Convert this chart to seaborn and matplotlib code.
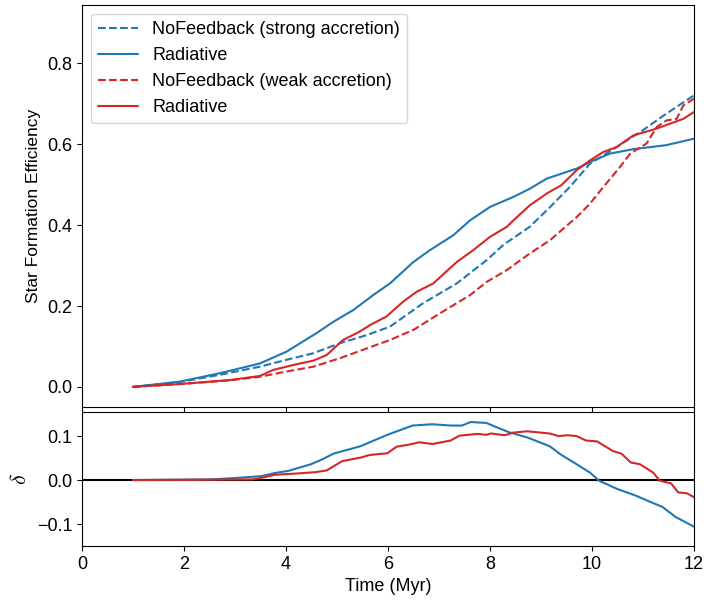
import numpy as np
import pandas as pd
import matplotlib
matplotlib.use("Agg")
import matplotlib.pyplot as plt
import seaborn as sns

# ---- data ----
t_bs = [1.0, 1.92, 2.71, 3.49, 4.01, 4.6, 4.93, 5.32, 5.71, 6.04, 6.5, 6.82, 7.28, 7.61, 8.0,
        8.46, 8.78, 9.11, 9.7, 10.03, 10.35, 10.81, 11.46, 12.0]
sfe_bs = [0.0, 0.013, 0.034, 0.058, 0.087, 0.133, 0.161, 0.19, 0.227, 0.256, 0.309, 0.338, 0.375,
          0.412, 0.445, 0.47, 0.49, 0.515, 0.54, 0.56, 0.577, 0.588, 0.598, 0.614]

t_bd = [1.0, 1.92, 2.71, 3.49, 4.01, 4.53, 5.06, 5.58, 6.04, 6.69, 7.35, 7.94, 8.26, 8.78, 9.18,
        9.57, 9.96, 10.48, 11.0, 11.46, 12.0]
sfe_bd = [0.0, 0.012, 0.03, 0.05, 0.067, 0.083, 0.108, 0.128, 0.149, 0.207, 0.256, 0.314, 0.351,
          0.396, 0.445, 0.495, 0.552, 0.593, 0.635, 0.676, 0.721]

t_rs = [1.0, 1.92, 2.9, 3.49, 3.75, 4.14, 4.54, 4.8, 5.12, 5.45, 5.65, 5.97, 6.3, 6.56, 6.89,
        7.35, 7.67, 8.0, 8.33, 8.46, 8.78, 9.11, 9.4, 9.7, 9.96, 10.22, 10.48, 10.81, 11.27,
        11.79, 12.0]
sfe_rs = [0.0, 0.007, 0.017, 0.027, 0.042, 0.054, 0.065, 0.079, 0.116, 0.137, 0.153, 0.174,
          0.211, 0.235, 0.256, 0.309, 0.338, 0.371, 0.396, 0.412, 0.449, 0.478, 0.499, 0.536,
          0.56, 0.581, 0.593, 0.622, 0.639, 0.663, 0.68]

t_rd = [1.0, 1.92, 2.9, 3.49, 4.01, 4.54, 5.06, 5.58, 6.04, 6.5, 7.02, 7.61, 7.94, 8.33, 8.78,
        9.18, 9.7, 9.96, 10.22, 10.55, 10.75, 11.07, 11.27, 11.46, 11.66, 11.79, 12.0]
sfe_rd = [0.0, 0.007, 0.016, 0.025, 0.038, 0.05, 0.071, 0.095, 0.116, 0.141, 0.182, 0.227, 0.26,
          0.289, 0.33, 0.363, 0.42, 0.453, 0.494, 0.544, 0.577, 0.602, 0.643, 0.659, 0.663,
          0.696, 0.713]

t_db = [1.0, 2.54, 2.99, 3.52, 3.78, 4.05, 4.49, 4.71, 4.93, 5.46, 5.99, 6.48, 6.87, 7.23, 7.45,
        7.62, 7.93, 8.11, 8.37, 8.73, 9.17, 9.39, 9.7, 9.96, 10.14, 10.49, 10.85, 11.11, 11.38,
        11.64, 12.0]
delta_b = [0.0, 0.0015, 0.0045, 0.009, 0.016, 0.021, 0.036, 0.047, 0.06, 0.077, 0.103, 0.124,
           0.127, 0.124, 0.124, 0.132, 0.130, 0.121, 0.109, 0.097, 0.077, 0.058, 0.036, 0.017,
           -0.0015, -0.02, -0.035, -0.048, -0.061, -0.084, -0.106]

t_dr = [1.0, 3.34, 3.56, 3.78, 4.22, 4.58, 4.8, 5.1, 5.46, 5.64, 5.99, 6.17, 6.43, 6.61, 6.87,
        7.23, 7.4, 7.76, 7.93, 8.02, 8.29, 8.46, 8.73, 9.17, 9.35, 9.52, 9.7, 9.88, 10.1, 10.41,
        10.58, 10.76, 10.94, 11.2, 11.33, 11.55, 11.69, 11.86, 12.0]
delta_r = [0.0, 0.0015, 0.006, 0.012, 0.015, 0.018, 0.022, 0.043, 0.051, 0.057, 0.061, 0.076,
           0.081, 0.086, 0.082, 0.09, 0.101, 0.105, 0.103, 0.106, 0.102, 0.108, 0.111, 0.106,
           0.1, 0.102, 0.1, 0.09, 0.088, 0.066, 0.06, 0.04, 0.036, 0.017, -0.0015, -0.0075,
           -0.028, -0.03, -0.039]

labels = ["NoFeedback (strong accretion)", "Radiative", "NoFeedback (weak accretion)", "Radiative"]
xticks = [0, 2, 4, 6, 8, 10, 12]

# ---- style ----
sns.set_style("ticks", {"axes.edgecolor": "black", "text.color": "black",
                        "axes.labelcolor": "black", "xtick.color": "black",
                        "ytick.color": "black"})
plt.rcParams["font.family"] = ["Liberation Sans", "DejaVu Sans"]
plt.rcParams["mathtext.fontset"] = "cm"

blue = "#1f77b4"
red = "#d62728"

fig = plt.figure(figsize=(7.06, 6.04), dpi=100)
ax1 = fig.add_axes([0.116, 0.326, 0.867, 0.666])
ax2 = fig.add_axes([0.116, 0.096, 0.867, 0.222], sharex=ax1)

sns.lineplot(x=t_bd, y=sfe_bd, ax=ax1, color=blue, linestyle="--", lw=1.5, label=labels[0])
sns.lineplot(x=t_bs, y=sfe_bs, ax=ax1, color=blue, lw=1.5, label=labels[1])
sns.lineplot(x=t_rd, y=sfe_rd, ax=ax1, color=red, linestyle="--", lw=1.5, label=labels[2])
sns.lineplot(x=t_rs, y=sfe_rs, ax=ax1, color=red, lw=1.5, label=labels[3])

ax1.set_xlim(0, 12)
ax1.set_ylim(-0.05, 0.945)
ax1.set_yticks([0.0, 0.2, 0.4, 0.6, 0.8])
ax1.set_ylabel("Star Formation Efficiency", fontsize=12.5)
ax1.tick_params(labelsize=13, labelbottom=False)
ax1.set_xlabel("")
leg = ax1.legend(loc="upper left", fontsize=13, frameon=True, handlelength=2.2)

ax2.axhline(0, color="black", lw=1.5)
sns.lineplot(x=t_db, y=delta_b, ax=ax2, color=blue, lw=1.5)
sns.lineplot(x=t_dr, y=delta_r, ax=ax2, color=red, lw=1.5)
ax2.set_xlim(0, 12)
ax2.set_ylim(-0.15, 0.155)
ax2.set_yticks([-0.1, 0.0, 0.1])
ax2.set_xticks(xticks)
ax2.set_ylabel(r"$\delta$", fontsize=16)
ax2.set_xlabel("Time (Myr)", fontsize=13)
ax2.tick_params(labelsize=13)

fig.savefig("out.png", dpi=100)
